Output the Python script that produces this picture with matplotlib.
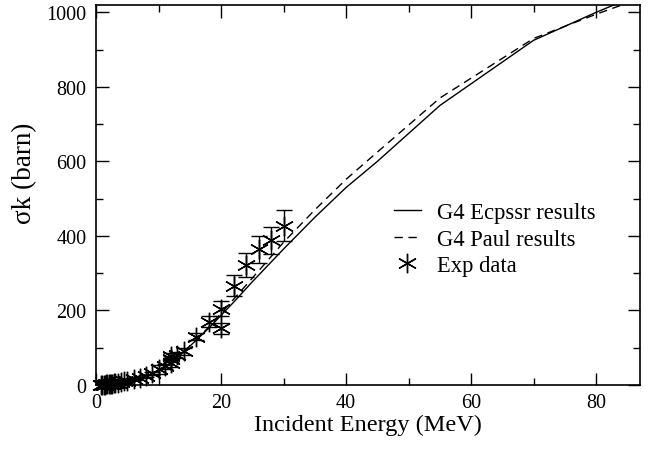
import numpy as np
import matplotlib
matplotlib.use("Agg")
import matplotlib.pyplot as plt
from matplotlib.ticker import MultipleLocator

# G4 model curves (energy in MeV, cross-section in barn)
energy_model = [0, 1, 2, 3, 4, 5, 6, 7, 8, 9, 10, 12, 14, 16, 18, 20, 22, 25,
                30, 35, 40, 45, 55, 70, 80, 90]
sigma_ecpssr = [0, 0.3, 1, 2.5, 5, 8, 12, 17, 23, 30, 38, 60, 88, 120, 152, 187,
                222, 277, 365, 450, 530, 600, 750, 925, 1000, 1070]
sigma_paul = [0, 0.3, 1, 2.5, 5, 8, 12, 17, 23, 30, 38, 60, 89, 121, 155, 192,
              230, 287, 383, 470, 552, 625, 770, 930, 995, 1055]

# experimental data
energy_exp = [0.8, 1.0, 1.2, 1.4, 1.6, 1.8, 2.0, 2.2, 2.4, 2.6, 2.8, 3.0, 3.5,
              4.0, 4.5, 5.0, 6.0, 7.0, 8.0, 9.0, 10, 11, 12, 12, 12, 13, 14,
              16, 18, 20, 20, 22, 24, 26, 28, 30]
sigma_exp = [0.5, 0.8, 1.0, 1.3, 1.6, 2, 2.5, 3, 3.5, 4, 4.5, 5, 6.5, 8, 10,
             12, 16, 20, 25, 32, 42, 50, 60, 70, 78, 80, 90, 130, 170, 205,
             152, 267, 321, 364, 388, 428]
err_exp = [0.05, 0.08, 0.1, 0.13, 0.16, 0.2, 0.25, 0.3, 0.35, 0.4, 0.45, 0.5,
           0.7, 0.8, 1, 1.2, 1.6, 2, 3, 4, 12, 6, 12, 8, 8, 8, 9, 10, 14, 20,
           15, 28, 32, 36, 37, 42]

plt.rcParams["font.family"] = ["Liberation Serif", "DejaVu Serif"]

fig = plt.figure(figsize=(6.49, 4.52), dpi=100)
ax = fig.add_axes([0.148, 0.146, 0.838, 0.841])

ax.plot(energy_model, sigma_ecpssr, color="black", lw=1.0, label="G4 Ecpssr results")
ax.plot(energy_model, sigma_paul, color="black", lw=1.0, ls=(0, (6, 4)),
        label="G4 Paul results")
eb = ax.errorbar(energy_exp, sigma_exp, yerr=err_exp, fmt="none", ecolor="black",
                 elinewidth=1.0, capsize=6, capthick=1.0)
pts, = ax.plot(energy_exp, sigma_exp, ls="none", marker=(6, 2, 0), ms=14,
               mec="black", mew=1.0, color="black", label="Exp data")
pts.set_clip_on(False)

ax.set_xlim(0, 87)
ax.set_ylim(0, 1020)
ax.xaxis.set_major_locator(MultipleLocator(20))
ax.xaxis.set_minor_locator(MultipleLocator(10))
ax.yaxis.set_major_locator(MultipleLocator(200))
ax.yaxis.set_minor_locator(MultipleLocator(100))
ax.tick_params(which="both", direction="in", top=True, right=True, labelsize=14.5)
ax.tick_params(which="major", length=9, width=1)
ax.tick_params(which="minor", length=5, width=1)
ax.tick_params(axis="x", which="major", pad=6)
ax.tick_params(axis="y", which="major", pad=7)
for s in ax.spines.values():
    s.set_linewidth(1.2)

ax.set_xlabel("Incident Energy (MeV)", fontsize=17.5, labelpad=1)
ax.set_ylabel("σk (barn)", fontsize=19.5, labelpad=4)
ax.yaxis.set_label_coords(-0.108, 0.56)

ax.legend(handles=[ax.lines[0], ax.lines[1], pts], loc="upper left",
          bbox_to_anchor=(0.51, 0.535), frameon=False, fontsize=16.3,
          handlelength=1.2, handletextpad=0.7, labelspacing=0.25)

fig.savefig("out.png", dpi=100)
